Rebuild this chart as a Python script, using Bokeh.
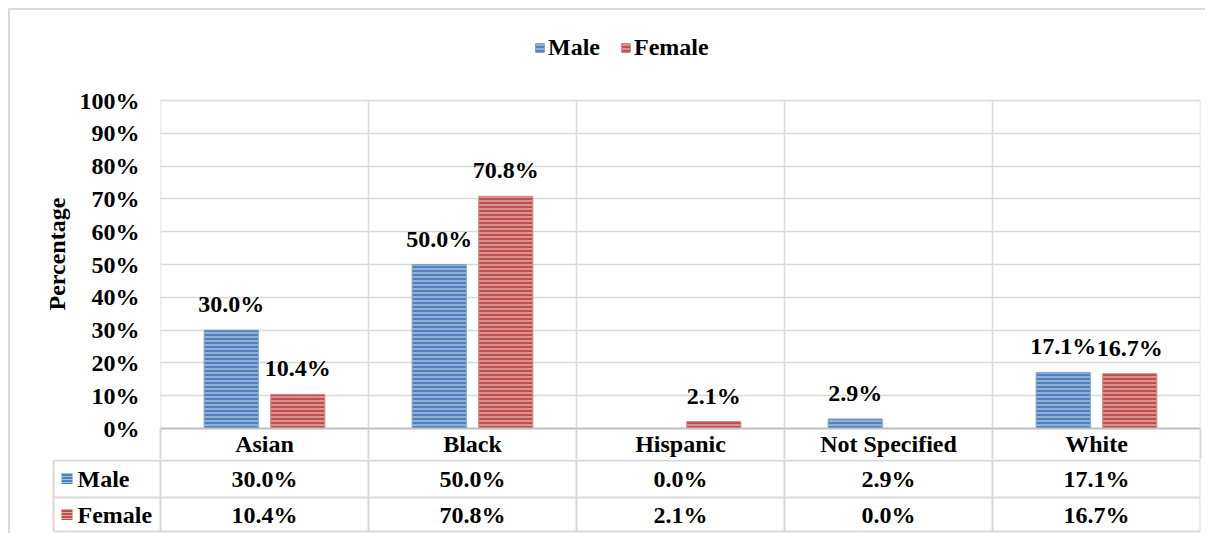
from bokeh.plotting import figure
from bokeh.models import (Range1d, FixedTicker, PrintfTickFormatter, Legend, LegendItem,
                          ColumnDataSource, LinearAxis, Title)
from bokeh.transform import dodge
from bokeh.core.properties import value
from bokeh.embed import file_html
from bokeh.resources import INLINE

# ---- data ----
categories = ["Asian", "Black", "Hispanic", "Not Specified", "White"]
male = [30.0, 50.0, 0.0, 2.9, 17.1]
female = [10.4, 70.8, 2.1, 0.0, 16.7]
series = ["Male", "Female"]
y_ticks = [0, 10, 20, 30, 40, 50, 60, 70, 80, 90, 100]

FONT = "Liberation Serif"
FS = "24px"
BLUE = "#4F81BD"
RED = "#C0504D"
GRID = "#d9d9d9"

n = len(categories)
xs = [i + 0.5 for i in range(n)]
bounds = list(range(n + 1))
src = ColumnDataSource(dict(x=xs, cat=categories, male=male, female=female))

# ---- chart figure: frame reaches the top so the legend sits inside it ----
PLOT_H = 418            # frame height in px (100% gridline 90px below its top)
ROW = 33                # height of the category row (x axis)
Y_TOP = 100 * PLOT_H / 328.0
p = figure(width=1197, height=PLOT_H + ROW, x_range=Range1d(0, n), y_range=Range1d(0, Y_TOP),
           x_axis_location=None, output_backend="svg", toolbar_location=None,
           min_border_left=150, min_border_right=7, min_border_top=0, min_border_bottom=ROW,
           outline_line_color=None,
           styles={"margin-left": "8px", "margin-top": "8px",
                   "border-left": "2px solid #d9d9d9", "border-top": "2px solid #d9d9d9"})
p.xgrid.visible = False
p.ygrid.ticker = FixedTicker(ticks=y_ticks)
p.ygrid.grid_line_color = GRID
p.ygrid.grid_line_width = 1.5
# vertical category separators, from 0% to 100%
p.segment(x0=bounds, y0=[0] * (n + 1), x1=bounds, y1=[100] * (n + 1),
          line_color=GRID, line_width=1.5)

xax = LinearAxis(ticker=FixedTicker(ticks=xs, minor_ticks=bounds),
                 major_label_overrides={x: c for x, c in zip(xs, categories)},
                 axis_line_color="#bfbfbf", axis_line_width=2,
                 major_tick_line_color=None, major_tick_out=0, major_tick_in=0,
                 minor_tick_line_color=GRID, minor_tick_line_width=2,
                 minor_tick_in=0, minor_tick_out=ROW,
                 major_label_standoff=2 - ROW, major_label_text_font=FONT,
                 major_label_text_font_style="bold", major_label_text_font_size=FS,
                 major_label_text_color="black")
p.add_layout(xax, "below")

p.yaxis.ticker = FixedTicker(ticks=y_ticks)
p.yaxis.formatter = PrintfTickFormatter(format="%d%%")
p.yaxis.axis_line_color = None
p.yaxis.major_tick_line_color = None
p.yaxis.minor_tick_line_color = None
p.yaxis.major_label_standoff = 15
p.yaxis.major_label_text_font = FONT
p.yaxis.major_label_text_font_style = "bold"
p.yaxis.major_label_text_font_size = FS
p.yaxis.major_label_text_color = "black"

p.add_layout(Title(text="Percentage", align="left", offset=118, standoff=14,
                   text_font=FONT, text_font_style="bold", text_font_size=FS,
                   text_color="black"), "left")

common = dict(width=0.26, source=src, hatch_pattern="horizontal_line", hatch_color="white",
              hatch_alpha=0.5, hatch_scale=4, hatch_weight=1.5)
r_m = p.vbar(x=dodge("x", -0.16, range=p.x_range), top="male", fill_color=BLUE,
             line_color="#7fa3cf", line_width=1, **common)
r_f = p.vbar(x=dodge("x", 0.16, range=p.x_range), top="female", fill_color=RED,
             line_color="#d48381", line_width=1, **common)

# data labels (zero values are not labelled)
lx, ly, lt = [], [], []
for i in range(n):
    for off, vals in ((-0.16, male), (0.16, female)):
        if vals[i] > 0:
            lx.append(xs[i] + off)
            ly.append(vals[i])
            lt.append(f"{vals[i]:.1f}%")
p.text(x=lx, y=ly, text=lt, text_align="center", text_baseline="alphabetic", y_offset=-26,
       text_font=value(FONT), text_font_style="bold", text_font_size=FS, text_color="black")

legend = Legend(items=[LegendItem(label=series[0], renderers=[r_m]),
                       LegendItem(label=series[1], renderers=[r_f])],
                orientation="horizontal", location=(374, 367), padding=0, margin=0,
                spacing=20, label_standoff=3, glyph_width=11, glyph_height=11,
                border_line_color=None, background_fill_alpha=0,
                label_text_font=FONT, label_text_font_style="bold", label_text_font_size=FS,
                label_text_color="black")
p.add_layout(legend)

# ---- data table figure (Male / Female rows), a separate root ----
unit = 208.0
x0 = -112 / unit
t = figure(width=1197, height=74, x_range=Range1d(x0, n), y_range=Range1d(-2, 72),
           x_axis_location=None, y_axis_location=None, output_backend="svg", toolbar_location=None,
           min_border_left=38, min_border_right=7, min_border_top=0, min_border_bottom=0,
           outline_line_color=None,
           styles={"margin-left": "8px", "border-left": "2px solid #d9d9d9"})
t.xgrid.visible = False
t.ygrid.visible = False
left = -107 / unit
t.segment(x0=[left, left, left], y0=[71, 34, 0], x1=[n, n, n], y1=[71, 34, 0],
          line_color=GRID, line_width=2)
t.segment(x0=bounds, y0=[0] * (n + 1), x1=bounds, y1=[72] * (n + 1),
          line_color=GRID, line_width=2)
t.segment(x0=[left], y0=[0], x1=[left], y1=[71], line_color=GRID, line_width=2)

txt = dict(text_font=value(FONT), text_font_style="bold", text_font_size=FS, text_color="black",
           text_baseline="middle")
t.text(x=xs, y=[53] * n, text=[f"{v:.1f}%" for v in male], text_align="center", **txt)
t.text(x=xs, y=[17] * n, text=[f"{v:.1f}%" for v in female], text_align="center", **txt)
key_x = (66.5 - 160) / unit
lab_x = (77 - 160) / unit
hk = dict(marker="square", size=11, line_color=None, hatch_pattern="horizontal_line",
          hatch_color="white", hatch_alpha=0.5, hatch_scale=3, hatch_weight=1)
t.scatter(x=[key_x], y=[53], fill_color=BLUE, **hk)
t.scatter(x=[key_x], y=[17], fill_color=RED, **hk)
t.text(x=[lab_x, lab_x], y=[53, 17], text=series, text_align="left", **txt)

open("out.html", "w").write(file_html([p, t], INLINE))
